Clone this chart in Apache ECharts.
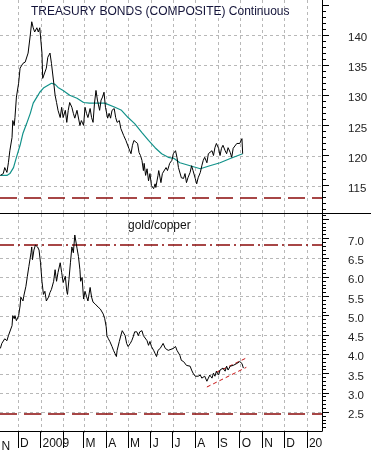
<!DOCTYPE html>
<html><head><meta charset="utf-8">
<script src="https://cdn.jsdelivr.net/npm/echarts@6/dist/echarts.min.js"></script>
<style>html,body{margin:0;padding:0;background:#fff}#c{width:371px;height:451px}</style>
</head><body><div id="c"></div>
<script>
// ---- data (days counted from 2009-01-01) ----
const tbDays = [-55,-51,-49,-46,-44,-42,-39,-38,-36,-35,-33,-30,-28,-26,-24,-21,-19,-17,-14,-12,-10,-8,-5,-3,-1,2,3,5,8,10,13,15,18,20,22,24,27,29,31,34,36,38,40,43,45,47,50,54,56,59,61,63,65,68,70,72,74,76,78,81,83,85,87,89,92,94,96,98,101,103,105,108,110,112,114,117,119,121,124,126,128,130,133,135,137,139,141,142,144,146,148,150,152,155,157,158,161,162,165,167,169,172,174,176,177,180,182,185,187,189,191,193,196,198,200,202,205,207,209,212,214,216,219,221,223,225,228,230,232,235,237,239,241,244,246,248,250,253,255,257,260,262,264,266,269,271,273,276,277];
const tbVals = [116.7,117,118,117.2,118.8,120.8,123,125.8,125,126.3,129.7,132,134.5,134.7,135.3,135.5,135.8,137,140,142.2,141.2,140.5,141.2,140.5,141.2,137,132.8,133,134.5,136.3,137,135.3,132.2,130,128.8,127.5,126.3,128,126.3,127.5,125.5,127.5,128.8,128,127,126.2,127.5,125,125.8,125,128,127,126.3,127.8,126.3,125.5,128.7,130.8,129.2,127.5,129.2,129.7,130.5,128,126.2,127,126.2,127.5,127.8,126.3,125.5,125.8,124.5,124.7,123.3,122.5,122.2,121.2,120.3,121.7,122.5,122.8,122,120.5,120,119.2,117.5,118.7,116.7,117.8,115.8,117,115,114.5,115.3,114.7,116.7,117.5,115.5,117,116.7,118,117.5,118.3,118.7,119.2,120.3,120.8,119.7,118,117.8,116.3,116.2,117,115.5,116.3,117.2,118.3,117.5,116.2,115.3,116.3,117.2,118.3,119.2,119.7,118.8,120.3,120.5,120.8,120,121.3,122,121.2,120,121.2,121.7,120.8,120.3,121.3,120.5,119.7,121.2,121.2,122,122.2,122,122.8,120.3];
const maDays = [-55,-46,-42,-37,-33,-28,-24,-19,-14,-10,-5,-1,4,8,15,20,24,31,40,50,59,67,75,88,102,111,120,129,139,148,157,166,175,183,191,205,219,232,246,260,277];
const maVals = [116.7,116.7,117,118,119.7,121.7,123.7,125.3,127,128.7,129.7,130.5,131.2,131.5,132,131.8,131.3,130.8,130,129.5,128.8,128.7,128.7,128.7,128,127.5,126.3,125.3,123.8,122.5,121.3,120.3,119.7,119.5,118.8,118.3,117.8,118.3,118.8,119.5,120.3];
const gcDays = [-55,-53,-51,-49,-46,-44,-42,-39,-38,-36,-35,-33,-30,-28,-27,-24,-23,-20,-18,-16,-13,-12,-11,-9,-7,-4,-2,0,2,4,6,8,11,13,15,18,20,22,24,27,29,31,34,36,37,39,41,43,45,47,50,52,54,55,57,59,61,63,65,68,70,72,75,77,79,82,84,86,88,90,91,93,95,98,100,102,104,105,108,110,112,114,116,118,120,123,125,127,129,132,134,136,139,141,143,146,148,150,152,155,157,159,161,164,166,168,171,173,175,177,182,185,187,191,193,196,198,200,202,205,207,209,212,214,216,219,221,223,225,228,230,232,235,237,239,241,244,246,248,250,253,255,257,260,262,264,266,269,271,273,276,278];
const gcVals = [4.15,4.28,4.33,4.4,4.35,4.48,4.45,4.74,5.0,4.92,5.0,4.87,5.0,5.25,5.48,5.38,5.5,5.76,6.02,6.27,6.63,6.78,6.45,6.7,6.83,6.78,6.7,6.37,5.89,5.55,5.63,5.38,5.48,5.6,5.68,5.89,6.19,5.89,6.12,6.37,6.12,5.86,6.02,5.63,5.55,5.94,6.37,6.78,6.63,7.09,6.75,6.53,6.19,5.89,5.99,5.43,5.63,5.5,5.38,5.73,5.48,5.35,5.3,5.25,5.22,5.17,5.12,5.04,4.92,4.71,4.48,4.4,4.33,4.2,4.1,4.02,3.94,4.1,4.33,4.48,4.61,4.66,4.48,4.28,4.2,4.28,4.35,4.45,4.58,4.58,4.48,4.58,4.61,4.48,4.53,4.35,4.23,4.33,4.2,4.1,4.02,3.94,4.1,4.15,4.15,4.28,4.15,4.1,4.1,4.07,4.15,4.2,4.1,3.97,3.84,3.81,3.76,3.71,3.76,3.69,3.59,3.51,3.43,3.46,3.43,3.46,3.38,3.33,3.43,3.3,3.38,3.46,3.38,3.51,3.43,3.56,3.46,3.59,3.56,3.64,3.56,3.69,3.59,3.69,3.64,3.71,3.69,3.76,3.71,3.81,3.76,3.64];
const chUpDays = [241, 284];
const chUpVals = [3.53, 3.92];
const chLoDays = [228, 282];
const chLoVals = [3.15, 3.66];
const tbRefLine = 113;
const gcRefHigh = 6.84;
const gcRefLow = 2.47;
const monthStarts = ['2008-11-01','2008-12-01','2009-01-01','2009-02-01','2009-03-01','2009-04-01','2009-05-01','2009-06-01','2009-07-01','2009-08-01','2009-09-01','2009-10-01','2009-11-01','2009-12-01','2010-01-01'];
const monthLabels = ['N','D','2009','','M','A','M','J','J','A','S','O','N','D','20'];
const tbTickLabels = [115,120,125,130,135,140];
const tbMajorTicks = [115,120,125,130,135,140,145];
const gcTickLabels = [2.5,3.0,3.5,4.0,4.5,5.0,5.5,6.0,6.5,7.0];
const gcMajorTicks = [2.5,3.0,3.5,4.0,4.5,5.0,5.5,6.0,6.5,7.0,7.5];

// ---- helpers ----
const DAY = 86400000, T0 = Date.UTC(2009,0,1);
const pairs = (days, vals) => days.map((d,i)=>[d, vals[i]]);
const monthDays = monthStarts.map(s => Math.round((Date.parse(s + 'T00:00:00Z') - T0) / DAY));
const labelOf = {}; monthDays.forEach((d,i)=>{ labelOf[d] = monthLabels[i]; });
const tbMinor = []; for (let v = 111; v <= 145; v++) tbMinor.push(v);
const gcMinor = []; for (let k = 21; k <= 76; k++) gcMinor.push(k/10);

const FONT = "'Liberation Sans', Arial, sans-serif";
const XMIN = -55.5, XMAX = 385.7;
const TB = [110.46, 145.81], GC = [2.01, 7.634];
const RED = '#8b0a0a';
const G1 = {x0:0, x1:322, y0:0, y1:213}, G2 = {x0:0, x1:322, y0:214, y1:434};
const monthIn = monthDays.filter(d => d > XMIN && d < XMAX);

function xAx(gi, bottom){
  return {
    type:'value', gridIndex:gi, min:XMIN, max:XMAX,
    axisLine:{show:bottom, onZero:false, lineStyle:{color:'#000', width:1}},
    axisTick:{show:bottom, customValues:monthDays, length:17, lineStyle:{color:'#000'}},
    axisLabel:{show:bottom, customValues:monthDays, formatter:v => { const k = Math.round(v); return labelOf[k] !== undefined ? labelOf[k] : ''; },
      align:'left', verticalAlign:'top', lineHeight:14, padding:[0,0,0,2], margin:6, fontSize:12, color:'#111', fontFamily:FONT,
      showMinLabel:true, showMaxLabel:true, hideOverlap:false},
    splitLine:{show:false}
  };
}
function yAxes(gi, range, labels, major, minor, fmt){
  return [
    {type:'value', gridIndex:gi, position:'right', min:range[0], max:range[1],
     axisLine:{show:false}, axisTick:{show:false, customValues:labels},
     axisLabel:{customValues:labels, margin:26, fontSize:11.5, color:'#222', fontFamily:FONT,
       verticalAlign:'top', lineHeight:6, formatter:fmt},
     splitLine:{show:false}},
    {type:'value', gridIndex:gi, position:'right', min:range[0], max:range[1],
     axisLine:{show:true, lineStyle:{color:'#000', width:1}},
     axisTick:{show:true, customValues:major, length:7, lineStyle:{color:'#000'}},
     axisLabel:{show:false}, splitLine:{show:false}},
    {type:'value', gridIndex:gi, position:'right', min:range[0], max:range[1],
     axisLine:{show:false},
     axisTick:{show:true, customValues:minor, length:4, lineStyle:{color:'#000'}},
     axisLabel:{show:false}, splitLine:{show:false}}
  ];
}
const noSym = {symbol:'none', showSymbol:false, animation:false};

const chart = echarts.init(document.getElementById('c'), null, {renderer:'canvas'});
chart.setOption({
  animation:false,
  backgroundColor:'#fff',
  grid:[
    {left:G1.x0, top:G1.y0, width:G1.x1-G1.x0, height:G1.y1-G1.y0},
    {left:G2.x0, top:G2.y0, width:G2.x1-G2.x0, height:G2.y1-G2.y0}
  ],
  xAxis:[xAx(0,false), xAx(1,true)],
  yAxis:[].concat(
    yAxes(0, TB, tbTickLabels, tbMajorTicks, tbMinor, v => String(v)),
    yAxes(1, GC, gcTickLabels, gcMajorTicks, gcMinor, v => Number(v).toFixed(1))
  ),
  series:[
    Object.assign({type:'line', xAxisIndex:0, yAxisIndex:0, data:pairs(tbDays, tbVals),
      lineStyle:{color:'#000', width:1}, z:5,
      markLine:{silent:true, symbol:['none','none'], label:{show:false},
        lineStyle:{color:RED, type:[17,7], width:1.5}, data:[{yAxis:tbRefLine}]}}, noSym),
    Object.assign({type:'line', xAxisIndex:0, yAxisIndex:0, data:pairs(maDays, maVals),
      lineStyle:{color:'#12928a', width:1.2}, z:4}, noSym),
    Object.assign({type:'line', xAxisIndex:1, yAxisIndex:3, data:pairs(gcDays, gcVals),
      lineStyle:{color:'#000', width:1}, z:5,
      markLine:{silent:true, symbol:['none','none'], label:{show:false},
        data:[
          {yAxis:gcRefHigh, lineStyle:{color:RED, type:[14,4,2,4], width:1.5}},
          {yAxis:gcRefLow, lineStyle:{color:RED, type:[17,7], width:1.5}}
        ]}}, noSym),
    Object.assign({type:'line', xAxisIndex:1, yAxisIndex:3, data:pairs(chUpDays, chUpVals),
      lineStyle:{color:'#c81414', width:1, type:[4,3]}, z:4}, noSym),
    Object.assign({type:'line', xAxisIndex:1, yAxisIndex:3, data:pairs(chLoDays, chLoVals),
      lineStyle:{color:'#c81414', width:1, type:[4,3]}, z:4}, noSym)
  ]
});

// gridlines placed through the library's own axis scales
const gridStyle = {stroke:'#b8b8b8', lineWidth:1, lineDash:[3,3]};
const snap = p => Math.round(p) + 0.5;
const gl = [];
function hLines(yAxisIndex, vals, g){
  vals.forEach(v => {
    const y = snap(chart.convertToPixel({yAxisIndex}, v));
    gl.push({type:'line', silent:true, z:-1, shape:{x1:g.x0, y1:y, x2:g.x1, y2:y}, style:gridStyle});
  });
}
function vLines(xAxisIndex, g){
  monthIn.forEach(d => {
    const x = snap(chart.convertToPixel({xAxisIndex}, d));
    gl.push({type:'line', silent:true, z:-1, shape:{x1:x, y1:g.y0, x2:x, y2:g.y1}, style:gridStyle});
  });
}
hLines(0, tbTickLabels, G1); vLines(0, G1);
hLines(3, gcTickLabels, G2); vLines(1, G2);

const txtFont = "12px 'Liberation Sans', Arial, sans-serif";
chart.setOption({
  graphic: gl.concat([
    {type:'line', silent:true, z:10, shape:{x1:0, y1:213.5, x2:371, y2:213.5}, style:{stroke:'#000', lineWidth:1}},
    {type:'text', silent:true, z:10, style:{text:'TREASURY BONDS (COMPOSITE) Continuous', x:31, y:12, verticalAlign:'middle', font:txtFont, fill:'#14143a'}},
    {type:'text', silent:true, z:10, style:{text:'gold/copper', x:128, y:226, verticalAlign:'middle', font:txtFont, fill:'#111'}},
    {type:'text', silent:true, z:10, style:{text:monthLabels[0], x:1.5, y:447, verticalAlign:'middle', font:txtFont, fill:'#111'}}
  ])
});
</script></body></html>
